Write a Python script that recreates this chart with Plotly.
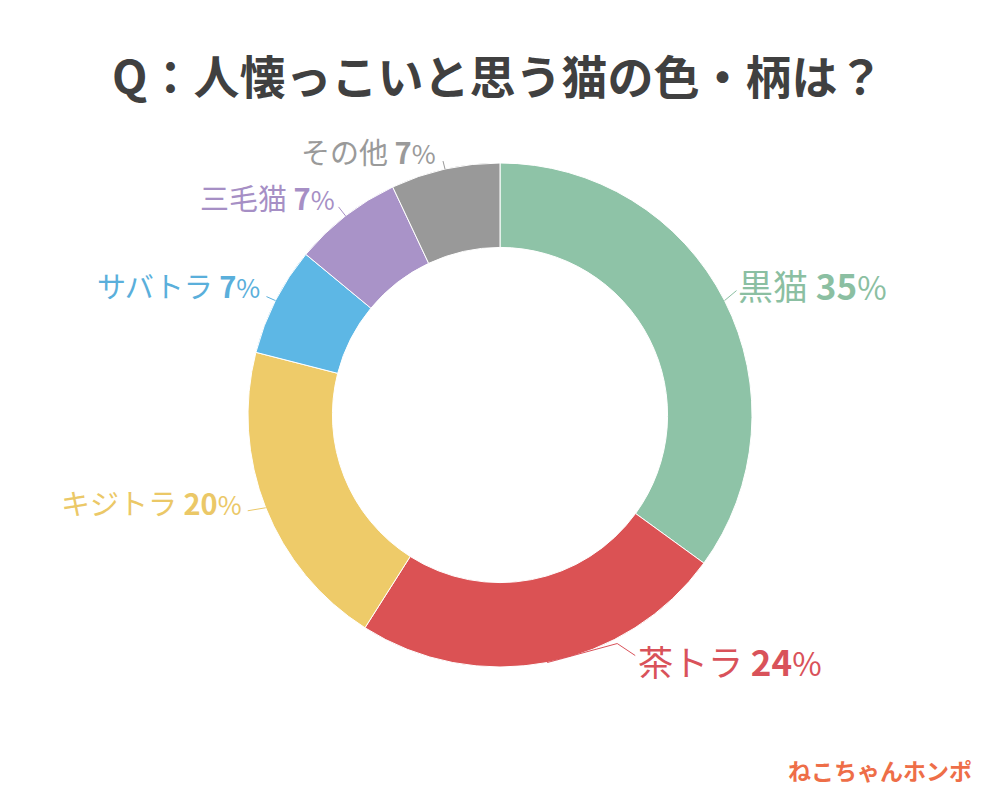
import math
import plotly.graph_objects as go

# ---- data ----
categories = ["黒猫", "茶トラ", "キジトラ", "サバトラ", "三毛猫", "その他"]
values = [35, 24, 20, 7, 7, 7]
colors = ["#8EC3A7", "#DB5254", "#EECB69", "#5DB7E5", "#A993C8", "#999999"]
text_colors = ["#8BBFA2", "#D9525A", "#EBC867", "#5AAFDB", "#A68FC5", "#9A9A9A"]
title_text = "Q：人懐っこいと思う猫の色・柄は？"
logo_text = "ねこちゃんホンポ"

# ---- layout parameters (pixels, in window coordinates) ----
W, H = 1000, 800
OFF = 8  # page body margin
CX, CY, R = 500, 415, 252
HOLE = 0.665
label_size = [35, 35, 29, 29, 29, 29]
# leader-line path offsets relative to the slice's outer mid point, and text offsets
line_offsets = [
    [(12, -10)],
    [(70, -19), (88, -7)],
    [(-18, 3)],
    [(-9, -4)],
    [(-7, -9)],
    [(-2, -8)],
]
text_offsets = [(-1, -6, "left"), (1, 5, "left"), (-4, -9, "right"), (-4, -12, "right"), (-2, -10, "right"), (-5, -10, "right")]


def px(x, y):
    return (x - OFF) / W, 1 - (y - OFF) / H


fx0, fy1 = px(CX - R, CY - R)
fx1, fy0 = px(CX + R, CY + R)
fig = go.Figure(go.Pie(
    labels=categories, values=values, sort=False, direction="clockwise", rotation=0,
    hole=HOLE, marker=dict(colors=colors, line=dict(color="white", width=1)),
    textinfo="none", hoverinfo="label+percent", showlegend=False,
    domain=dict(x=[fx0, fx1], y=[fy0, fy1]),
))

total = sum(values)
cum = 0
annotations = []
shapes = []
for i, (name, v) in enumerate(zip(categories, values)):
    mid = (cum + v / 2) / total * 2 * math.pi
    cum += v
    sx, sy = CX + R * math.sin(mid), CY - R * math.cos(mid)
    pts = [(sx, sy)] + [(sx + dx, sy + dy) for dx, dy in line_offsets[i]]
    path = "M " + " L ".join(f"{px(x, y)[0]:.5f},{px(x, y)[1]:.5f}" for x, y in pts)
    shapes.append(dict(type="path", path=path, xref="paper", yref="paper",
                       line=dict(color=text_colors[i], width=1)))
    ex, ey = pts[-1]
    tdx, tdy, anchor = text_offsets[i]
    tx, ty = px(ex + tdx, ey + tdy)
    fs = label_size[i]
    annotations.append(dict(
        x=tx, y=ty, xref="paper", yref="paper", xanchor=anchor, yanchor="middle",
        showarrow=False,
        text=f"{name} <b>{v}</b><span style='font-size:{int(fs*0.92)}px'> %</span>".replace(" %", "%"),
        font=dict(family="Noto Sans CJK JP", size=fs, color=text_colors[i]),
    ))

tx, ty = px(497, 74)
annotations.append(dict(
    x=tx, y=ty, xref="paper", yref="paper", xanchor="center", yanchor="middle",
    showarrow=False, text=f"<b>{title_text}</b>",
    font=dict(family="Noto Sans CJK JP", size=46, color="#404040"),
))
lx, ly = px(880, 770)
annotations.append(dict(
    x=lx, y=ly, xref="paper", yref="paper", xanchor="center", yanchor="middle",
    showarrow=False, text=f"<b>{logo_text}</b>",
    font=dict(family="Noto Sans CJK JP", size=23, color="#EE6E48"),
))

fig.update_layout(
    width=W, height=H, margin=dict(l=0, r=0, t=0, b=0),
    paper_bgcolor="white", plot_bgcolor="white",
    annotations=annotations, shapes=shapes,
)
fig.write_html("out.html")
